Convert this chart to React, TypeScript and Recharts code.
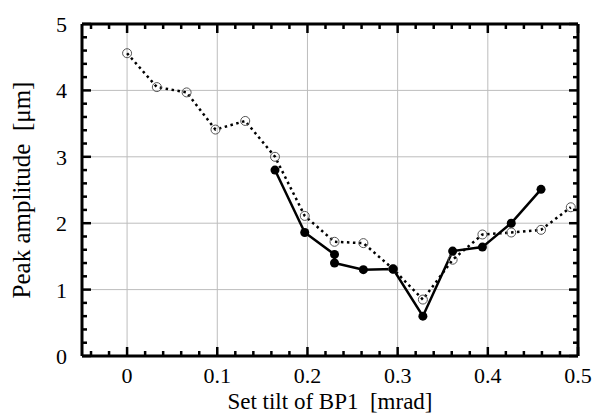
import React from 'react';
import { LineChart, Line, XAxis, YAxis, ReferenceLine } from 'recharts';

const openX = [0, 0.033, 0.066, 0.098, 0.131, 0.164, 0.197, 0.23, 0.262, 0.295, 0.328, 0.361, 0.394, 0.426, 0.459, 0.492];
const openY = [4.56, 4.05, 3.97, 3.41, 3.54, 3.0, 2.11, 1.72, 1.7, 1.31, 0.85, 1.45, 1.83, 1.86, 1.9, 2.24];

const filledX = [0.164, 0.197, 0.23, 0.23, 0.262, 0.295, 0.328, 0.361, 0.394, 0.426, 0.459];
const filledY = [2.8, 1.86, 1.53, 1.4, 1.3, 1.31, 0.6, 1.58, 1.64, 2.0, 2.51];

const xMajorTicks = [0, 0.1, 0.2, 0.3, 0.4, 0.5];
const xTicks = [-0.04, -0.02, 0, 0.02, 0.04, 0.06, 0.08, 0.1, 0.12, 0.14, 0.16, 0.18, 0.2, 0.22, 0.24, 0.26, 0.28, 0.3, 0.32, 0.34, 0.36, 0.38, 0.4, 0.42, 0.44, 0.46, 0.48, 0.5];
const yMajorTicks = [0, 1, 2, 3, 4, 5];
const yTicks = [0, 0.2, 0.4, 0.6, 0.8, 1, 1.2, 1.4, 1.6, 1.8, 2, 2.2, 2.4, 2.6, 2.8, 3, 3.2, 3.4, 3.6, 3.8, 4, 4.2, 4.4, 4.6, 4.8, 5];
const xGrid = [0, 0.1, 0.2, 0.3, 0.4];
const yGrid = [1, 2, 3, 4];

const openData = openX.map((x, i) => ({ x, y: openY[i] }));
const filledData = filledX.map((x, i) => ({ x, y: filledY[i] }));

const FONT = "'Liberation Serif', 'Times New Roman', serif";
const MAJOR = 9;
const MINOR = 5;

const isMajor = (v: number, majors: number[]) => majors.some((m) => Math.abs(m - v) < 1e-6);

function BottomTick({ x, y, payload }: any) {
  const major = isMajor(payload.value, xMajorTicks);
  return (
    <g>
      <line x1={x} x2={x} y1={y} y2={y - (major ? MAJOR : MINOR)} stroke="#000" strokeWidth={2.5} />
      {major && (
        <text x={x} y={y + 27} textAnchor="middle" style={{ fontSize: 22, fontFamily: FONT }} fill="#000">
          {payload.value}
        </text>
      )}
    </g>
  );
}

function TopTick({ x, y, payload }: any) {
  const major = isMajor(payload.value, xMajorTicks);
  return <line x1={x} x2={x} y1={y} y2={y + (major ? MAJOR : MINOR)} stroke="#000" strokeWidth={2.5} />;
}

function LeftTick({ x, y, payload }: any) {
  const major = isMajor(payload.value, yMajorTicks);
  return (
    <g>
      <line x1={x} x2={x + (major ? MAJOR : MINOR)} y1={y} y2={y} stroke="#000" strokeWidth={2.5} />
      {major && (
        <text x={x - 15} y={y + 8} textAnchor="end" style={{ fontSize: 22, fontFamily: FONT }} fill="#000">
          {payload.value}
        </text>
      )}
    </g>
  );
}

function RightTick({ x, y, payload }: any) {
  const major = isMajor(payload.value, yMajorTicks);
  return <line x1={x} x2={x - (major ? MAJOR : MINOR)} y1={y} y2={y} stroke="#000" strokeWidth={2.5} />;
}

function OpenDot({ cx, cy }: any) {
  if (cx == null || cy == null) return null;
  return <circle cx={cx} cy={cy} r={4.5} fill="none" stroke="#555" strokeWidth={1} />;
}

export default function App() {
  return (
    <div style={{ position: 'absolute', left: 0, top: 0, width: 594, height: 414, background: '#fff' }}>
      <LineChart width={594} height={414} margin={{ top: 0, right: 0, bottom: 0, left: 0 }}>
        {xGrid.map((v) => (
          <ReferenceLine key={'gx' + v} x={v} xAxisId="b" yAxisId="l" stroke="#bdbdbd" strokeWidth={1} />
        ))}
        {yGrid.map((v) => (
          <ReferenceLine key={'gy' + v} y={v} xAxisId="b" yAxisId="l" stroke="#bdbdbd" strokeWidth={1} />
        ))}
        <XAxis
          xAxisId="b"
          type="number"
          dataKey="x"
          domain={[-0.05, 0.5]}
          ticks={xTicks}
          interval={0}
          allowDataOverflow
          height={58}
          tickSize={0}
          tickMargin={0}
          tick={<BottomTick />}
          axisLine={{ stroke: '#000', strokeWidth: 3 }}
          label={{
            value: 'Set tilt of BP1\u00a0\u00a0[mrad]',
            position: 'insideBottom',
            offset: 5,
            style: { fontSize: 23, fontFamily: FONT, fill: '#000' },
          }}
        />
        <XAxis
          xAxisId="t"
          orientation="top"
          type="number"
          dataKey="x"
          domain={[-0.05, 0.5]}
          ticks={xTicks}
          interval={0}
          allowDataOverflow
          height={24}
          tickSize={0}
          tickMargin={0}
          tick={<TopTick />}
          axisLine={{ stroke: '#000', strokeWidth: 3 }}
        />
        <YAxis
          yAxisId="l"
          type="number"
          domain={[0, 5]}
          ticks={yTicks}
          interval={0}
          allowDataOverflow
          width={82}
          tickSize={0}
          tickMargin={0}
          tick={<LeftTick />}
          axisLine={{ stroke: '#000', strokeWidth: 3 }}
          label={{
            value: 'Peak amplitude\u00a0\u00a0[μm]',
            angle: -90,
            position: 'insideLeft',
            offset: 21,
            style: { fontSize: 25, fontFamily: FONT, fill: '#000', textAnchor: 'middle' },
          }}
        />
        <YAxis
          yAxisId="r"
          orientation="right"
          type="number"
          domain={[0, 5]}
          ticks={yTicks}
          interval={0}
          allowDataOverflow
          width={16}
          tickSize={0}
          tickMargin={0}
          tick={<RightTick />}
          axisLine={{ stroke: '#000', strokeWidth: 3 }}
        />
        <Line
          xAxisId="b"
          yAxisId="l"
          data={openData}
          dataKey="y"
          type="linear"
          stroke="#000"
          strokeWidth={2.5}
          strokeDasharray="2.5 3.5"
          dot={<OpenDot />}
          isAnimationActive={false}
        />
        <Line
          xAxisId="b"
          yAxisId="l"
          data={filledData}
          dataKey="y"
          type="linear"
          stroke="#000"
          strokeWidth={2.5}
          dot={{ r: 4.5, fill: '#000', stroke: '#000', strokeWidth: 0 }}
          isAnimationActive={false}
        />
      </LineChart>
    </div>
  );
}
